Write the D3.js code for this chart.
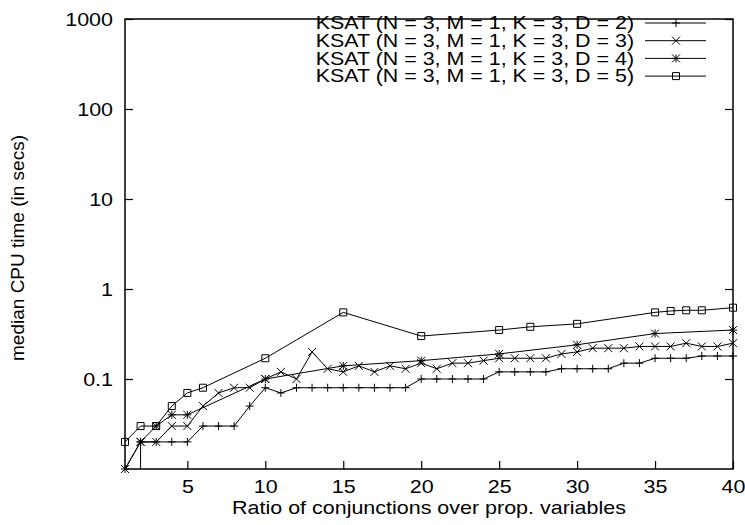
<!DOCTYPE html>
<html>
<head>
<meta charset="utf-8">
<script src="https://cdn.jsdelivr.net/npm/d3@7"></script>
<style>
  body { margin: 0; background: #fff; }
  text { font-family: "Liberation Sans", Arial, sans-serif; fill: #000; }
</style>
</head>
<body>
<svg id="chart"></svg>
<script>
const CHART_WIDTH = 745;
const CHART_HEIGHT = 525;
const MARGIN = { left: 125, top: 19, right: 12, bottom: 56 };
const WIDTH = CHART_WIDTH - MARGIN.left - MARGIN.right
const HEIGHT = CHART_HEIGHT - MARGIN.top - MARGIN.bottom
const STRETCH = 1.13   // text in the original is a bit wide
const KEY_STRETCH = 1.19

const X_TICKS = [5, 10, 15, 20, 25, 30, 35, 40]
const Y_TICKS = [0.1, 1, 10, 100, 1000]
const LABELS = [
    "KSAT (N = 3, M = 1, K = 3, D = 2)",
    "KSAT (N = 3, M = 1, K = 3, D = 3)",
    "KSAT (N = 3, M = 1, K = 3, D = 4)",
    "KSAT (N = 3, M = 1, K = 3, D = 5)"
]

// D = 2 : first point lies below the axis range (drawn as the drop at ratio 2)
const ratio_d2 = [2, 2, 3, 4, 5, 6, 7, 8, 9, 10, 11, 12, 13, 14, 15, 16, 17, 18, 19, 20,
    21, 22, 23, 24, 25, 26, 27, 28, 29, 30, 31, 32, 33, 34, 35, 36, 37, 38, 39, 40]
const time_d2 = [0.004, 0.02, 0.02, 0.02, 0.02, 0.03, 0.03, 0.03, 0.05, 0.08, 0.07, 0.08, 0.08, 0.08, 0.08, 0.08, 0.08, 0.08, 0.08, 0.1,
    0.1, 0.1, 0.1, 0.1, 0.12, 0.12, 0.12, 0.12, 0.13, 0.13, 0.13, 0.13, 0.15, 0.15, 0.17, 0.17, 0.17, 0.18, 0.18, 0.18]

const ratio_d3 = [1, 2, 3, 4, 5, 6, 7, 8, 9, 10, 11, 12, 13, 14, 15, 16, 17, 18, 19, 20,
    21, 22, 23, 24, 25, 26, 27, 28, 29, 30, 31, 32, 33, 34, 35, 36, 37, 38, 39, 40]
const time_d3 = [0.01, 0.02, 0.02, 0.03, 0.03, 0.05, 0.07, 0.08, 0.08, 0.1, 0.12, 0.1, 0.2, 0.13, 0.12, 0.14, 0.12, 0.14, 0.13, 0.15,
    0.13, 0.15, 0.15, 0.16, 0.17, 0.17, 0.17, 0.17, 0.19, 0.2, 0.22, 0.22, 0.22, 0.23, 0.23, 0.23, 0.25, 0.23, 0.23, 0.25]

const ratio_d4 = [1, 2, 3, 4, 5, 10, 15, 20, 25, 30, 35, 40]
const time_d4 = [0.01, 0.02, 0.03, 0.04, 0.04, 0.1, 0.14, 0.16, 0.19, 0.24, 0.32, 0.35]

const ratio_d5 = [1, 2, 3, 4, 5, 6, 10, 15, 20, 25, 27, 30, 35, 36, 37, 38, 40]
const time_d5 = [0.02, 0.03, 0.03, 0.05, 0.07, 0.08, 0.17, 0.55, 0.3, 0.35, 0.38, 0.41, 0.55, 0.57, 0.58, 0.58, 0.62]

const R = 4
const MARKERS = [
    `M${-R},0H${R}M0,${-R}V${R}`,
    `M${-R},${-R}L${R},${R}M${-R},${R}L${R},${-R}`,
    `M${-R},0H${R}M0,${-R}V${R}M${-R},${-R}L${R},${R}M${-R},${R}L${R},${-R}`,
    `M${-R + 0.5},${-R + 0.5}H${R - 0.5}V${R - 0.5}H${-R + 0.5}Z`
]

const series = [
    { xs: ratio_d2, ys: time_d2 },
    { xs: ratio_d3, ys: time_d3 },
    { xs: ratio_d4, ys: time_d4 },
    { xs: ratio_d5, ys: time_d5 }
].map((s, i) => ({
    label: LABELS[i],
    marker: MARKERS[i],
    points: s.xs.map((x, j) => ({ x: x, y: s.ys[j] }))
}))

function widen(sel, k = STRETCH){
    sel.each(function(){
        const w = this.getComputedTextLength()
        if (w > 0) d3.select(this).attr("textLength", w * k).attr("lengthAdjust", "spacingAndGlyphs")
    })
}

const svg = d3.select('#chart')
    .attr("width", CHART_WIDTH)
    .attr("height", CHART_HEIGHT)

const plot = svg.append("g")
    .attr("transform", `translate(${MARGIN.left},${MARGIN.top})`)

const x = d3.scaleLinear().domain([1, 40]).range([0, WIDTH])
const y = d3.scaleLog().domain([0.01, 1000]).range([HEIGHT, 0])

plot.append("clipPath").attr("id", "clip")
    .append("rect").attr("width", WIDTH).attr("height", HEIGHT)

const styleAxis = g => {
    g.select(".domain").remove()
    g.selectAll("line").attr("stroke", "#000").attr("stroke-width", 1.2)
    g.selectAll("text").attr("font-size", 19).attr("font-family", '"Liberation Sans", Arial, sans-serif')
}

plot.append("g")
    .attr("transform", `translate(0,${HEIGHT})`)
    .call(d3.axisBottom(x).tickValues(X_TICKS).tickSizeInner(-8).tickSizeOuter(0).tickPadding(11))
    .call(styleAxis)
    .call(g => g.selectAll("text").call(widen))

plot.append("g")
    .call(d3.axisLeft(y).tickValues(Y_TICKS).tickFormat(d3.format("~g")).tickSizeInner(-8).tickSizeOuter(0).tickPadding(12))
    .call(styleAxis)
    .call(g => g.selectAll("text").call(widen))

plot.append("g")
    .attr("transform", `translate(${WIDTH},0)`)
    .call(d3.axisRight(y).tickValues(Y_TICKS).tickFormat("").tickSizeInner(-8).tickSizeOuter(0))
    .call(styleAxis)

const line = d3.line().x(d => x(d.x)).y(d => y(d.y))

const groups = plot.selectAll(".series")
    .data(series)
    .join("g")
    .attr("class", "series")

groups.append("path")
    .attr("clip-path", "url(#clip)")
    .attr("fill", "none")
    .attr("stroke", "#000")
    .attr("stroke-width", 1)
    .attr("d", d => line(d.points))

groups.selectAll(".pt")
    .data(d => d.points.filter(p => p.y >= y.domain()[0]).map(p => ({ p: p, m: d.marker })))
    .join("path")
    .attr("class", "pt")
    .attr("transform", d => `translate(${x(d.p.x)},${y(d.p.y)})`)
    .attr("d", d => d.m)
    .attr("fill", "none")
    .attr("stroke", "#000")
    .attr("stroke-width", 1)

// border
plot.append("rect")
    .attr("width", WIDTH)
    .attr("height", HEIGHT)
    .attr("fill", "none")
    .attr("stroke", "#000")
    .attr("stroke-width", 1.5)

// legend
const legend = plot.append("g")
    .attr("transform", `translate(${WIDTH - 27},4)`)

const rows = legend.selectAll("g")
    .data(series)
    .join("g")
    .attr("transform", (d, i) => `translate(0,${i * 17.7})`)

rows.append("text")
    .attr("x", -72)
    .attr("y", 0)
    .attr("dy", "0.35em")
    .attr("text-anchor", "end")
    .attr("font-size", 17.5)
    .text(d => d.label)
    .call(widen, KEY_STRETCH * 18 / 17.5)

rows.append("line")
    .attr("x1", -61).attr("x2", 0)
    .attr("stroke", "#000").attr("stroke-width", 1)

rows.append("path")
    .attr("transform", "translate(-30,0)")
    .attr("d", d => d.marker)
    .attr("fill", "none")
    .attr("stroke", "#000")

// axis titles
svg.append("text")
    .attr("x", MARGIN.left + WIDTH / 2)
    .attr("y", 514)
    .attr("text-anchor", "middle")
    .attr("font-size", 19)
    .text("Ratio of conjunctions over prop. variables")
    .call(widen)

svg.append("text")
    .attr("transform", `translate(24,${MARGIN.top + HEIGHT / 2 + 4}) rotate(-90)`)
    .attr("text-anchor", "middle")
    .attr("font-size", 19)
    .text("median CPU time (in secs)")
</script>
</body>
</html>
